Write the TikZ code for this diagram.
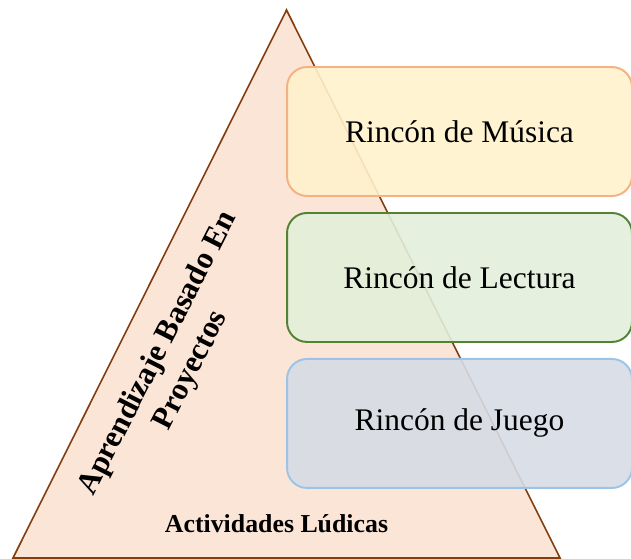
\documentclass[tikz,border=0pt]{standalone}
\usepackage{fontspec}
\setmainfont{Liberation Serif}
\usepackage{tikz}
\usetikzlibrary{positioning}
\usepackage{color}

\definecolor{peach}{HTML}{FBE5D6}
\definecolor{brownedge}{HTML}{843C0C}
\definecolor{yellowfill}{HTML}{FFF2CC}
\definecolor{orangeline}{HTML}{F4B183}
\definecolor{greenfill}{HTML}{E2EFDA}
\definecolor{greenline}{HTML}{548235}
\definecolor{bluefill}{HTML}{D6DCE5}
\definecolor{blueline}{HTML}{9DC3E6}

\begin{document}
\begin{tikzpicture}[x=0.02cm, y=-0.02cm, node distance=2.92cm, on grid,
    rincon/.style={draw, line width=1.1pt, rounded corners=0.4cm, fill opacity=0.9, text opacity=1,
      minimum width=6.9cm, minimum height=2.58cm, font=\fontsize{17.9}{21}\selectfont}]
      \useasboundingbox (0,0) rectangle (631,558);
      % pyramid
      \draw[fill=peach, draw=brownedge, line width=0.9pt] (286.5,10) -- (560,558) -- (13,558) -- cycle;

      \node[rincon, fill=yellowfill, draw=orangeline] (musica) at (459.5,131.5) {Rincón de Música};
      \node[rincon, fill=greenfill, draw=greenline, below=of musica] (lectura) {Rincón de Lectura};
      \node[rincon, fill=bluefill, draw=blueline, below=of lectura] (juego) {Rincón de Juego};

      \node[font=\bfseries\fontsize{17.7}{21}\selectfont, rotate=63, align=center] (abp) at (175,362) {Aprendizaje Basado En\\Proyectos};
      \node[font=\bfseries\fontsize{14.7}{17}\selectfont] (ludicas) at (276.5,524) {Actividades Lúdicas};
    \end{tikzpicture}
\end{document}
